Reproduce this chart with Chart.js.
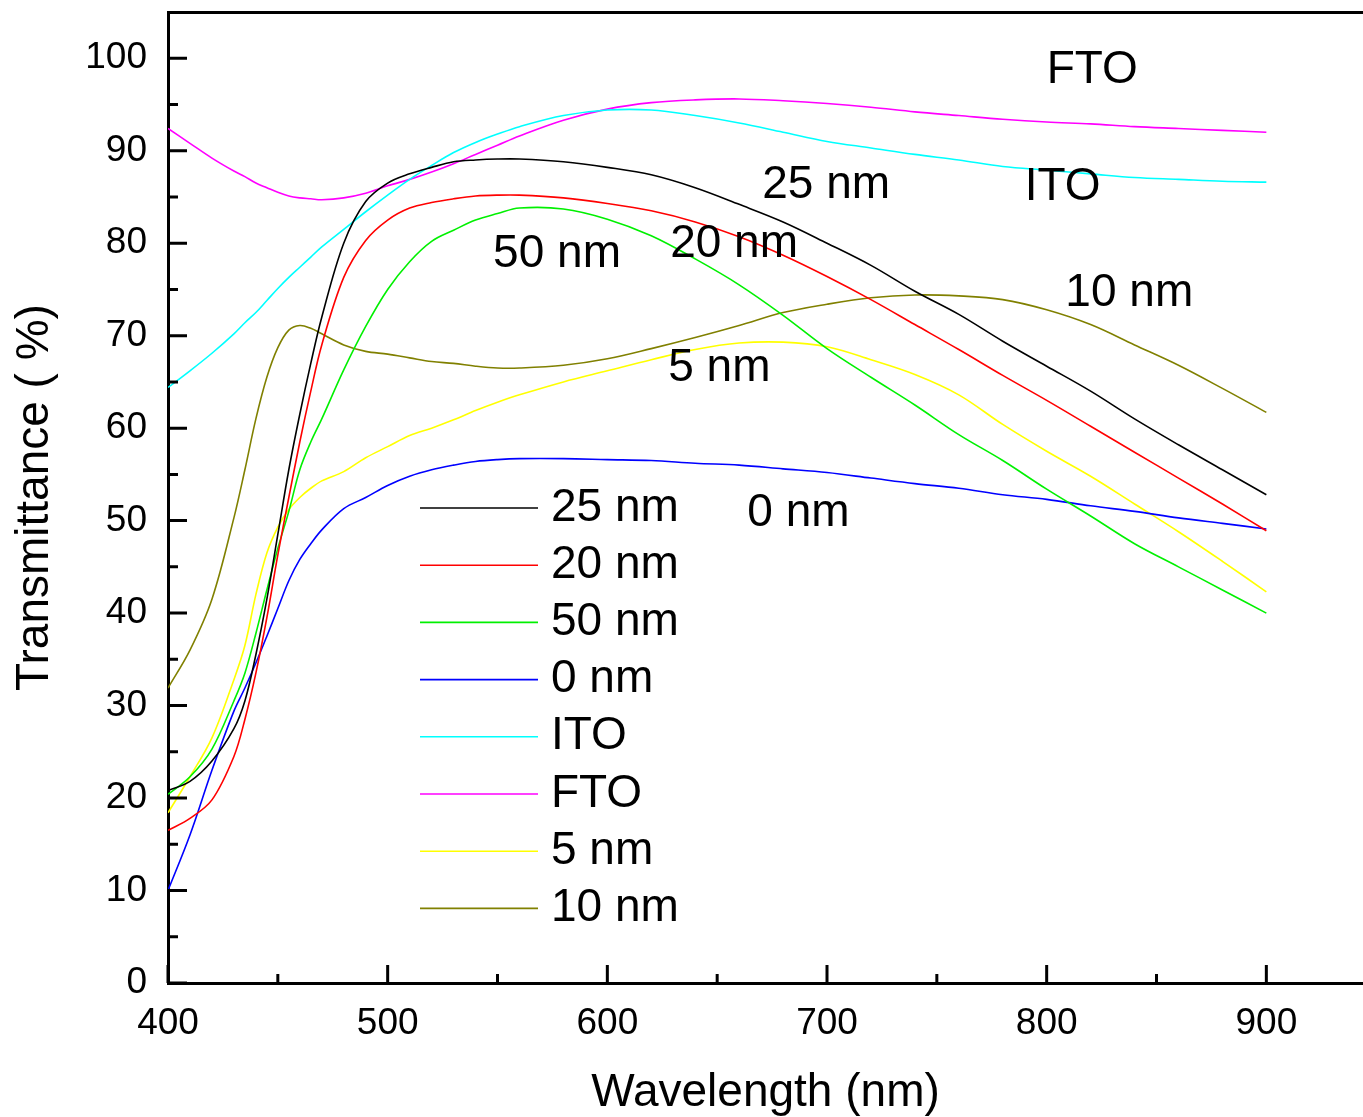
<!DOCTYPE html>
<html>
<head>
  <meta charset="UTF-8">
  <title>Transmittance</title>
  <script src="https://cdn.jsdelivr.net/npm/chart.js"></script>
  <style>
    body { margin: 0; padding: 0; background: white; }
    .wrap { width: 1363px; height: 1117px; position: relative; }
  </style>
</head>
<body>
  <div class="wrap"><canvas id="chart"></canvas></div>

  <script>
    const wavelengths = [400, 410, 420, 430, 435, 440, 445, 450, 455, 460, 465, 470, 480, 490, 500, 510, 520, 530, 540, 550,
      560, 580, 600, 620, 640, 660, 680, 700, 720, 740, 760, 780, 800, 820, 840, 860, 880, 900];

    const t25 = [20.8, 21.8, 24.0, 27.5, 30.5, 35.5, 41.5, 48.5, 55.5, 61.5, 67.0, 72.0, 80.0, 84.5, 86.5, 87.5, 88.2, 88.8, 89.0, 89.1,
      89.1, 88.8, 88.2, 87.4, 86.0, 84.2, 82.3, 80.0, 77.6, 74.8, 72.3, 69.4, 66.7, 64.0, 61.0, 58.2, 55.5, 52.8];
    const t20 = [16.5, 17.8, 19.8, 24.5, 28.5, 33.5, 39.5, 46.3, 52.5, 58.5, 64.0, 69.0, 76.3, 80.3, 82.5, 83.8, 84.4, 84.8, 85.1, 85.2,
      85.2, 84.9, 84.3, 83.5, 82.3, 80.7, 78.7, 76.4, 73.9, 71.2, 68.5, 65.7, 63.0, 60.2, 57.4, 54.6, 51.8, 48.9];
    const t50 = [20.4, 22.3, 25.3, 30.5, 33.5, 37.8, 42.5, 47.0, 51.0, 55.5, 58.5, 61.0, 66.3, 71.0, 75.0, 78.0, 80.2, 81.4, 82.5, 83.2,
      83.8, 83.7, 82.6, 80.8, 78.3, 75.5, 72.2, 68.6, 65.5, 62.5, 59.3, 56.5, 53.4, 50.5, 47.5, 45.0, 42.5, 40.0];
    const t0 = [10.0, 16.0, 23.0, 29.4, 31.9, 34.6, 37.5, 40.5, 43.5, 45.8, 47.5, 49.0, 51.3, 52.5, 53.8, 54.8, 55.5, 56.0, 56.4, 56.6,
      56.7, 56.7, 56.6, 56.5, 56.2, 56.0, 55.6, 55.2, 54.6, 54.0, 53.5, 52.8, 52.3, 51.6, 51.0, 50.3, 49.7, 49.1];
    const tITO = [64.4, 66.2, 68.1, 70.2, 71.4, 72.5, 73.8, 75.1, 76.3, 77.4, 78.5, 79.6, 81.5, 83.4, 85.2, 86.9, 88.4, 89.8, 90.9, 91.8,
      92.6, 93.8, 94.4, 94.4, 93.8, 93.0, 92.0, 91.0, 90.3, 89.6, 89.0, 88.3, 87.9, 87.5, 87.1, 86.9, 86.7, 86.6];
    const tFTO = [92.4, 90.8, 89.2, 87.8, 87.2, 86.5, 86.0, 85.5, 85.1, 84.9, 84.8, 84.7, 84.9, 85.4, 86.2, 86.9, 87.7, 88.6, 89.6, 90.6,
      91.6, 93.3, 94.5, 95.2, 95.5, 95.6, 95.4, 95.1, 94.7, 94.2, 93.8, 93.4, 93.1, 92.9, 92.6, 92.4, 92.2, 92.0];
    const t5 = [18.4, 22.3, 26.5, 32.8, 36.5, 42.0, 46.5, 49.3, 51.2, 52.5, 53.5, 54.3, 55.3, 56.8, 58.0, 59.2, 60.0, 60.9, 61.9, 62.8,
      63.6, 65.0, 66.2, 67.4, 68.5, 69.2, 69.3, 68.8, 67.4, 65.8, 63.6, 60.4, 57.5, 54.8, 51.8, 48.8, 45.6, 42.3];
    const t10 = [31.9, 36.0, 41.5, 50.3, 55.5, 61.0, 65.5, 68.7, 70.6, 71.1, 70.8, 70.2, 69.0, 68.3, 68.0, 67.6, 67.2, 67.0, 66.7, 66.5,
      66.5, 66.8, 67.5, 68.6, 69.8, 71.1, 72.5, 73.4, 74.1, 74.4, 74.3, 73.9, 72.8, 71.2, 69.0, 66.8, 64.3, 61.7];

    const xTicks = [400, 500, 600, 700, 800, 900];
    const xMinorTicks = [450, 550, 650, 750, 850];
    const yTicks = [0, 10, 20, 30, 40, 50, 60, 70, 80, 90, 100];
    const yMinorTicks = [5, 15, 25, 35, 45, 55, 65, 75, 85, 95];

    // curve labels, in wavelength / transmittance units
    const notes = [
      { text: 'FTO', x: 800, y: 98.7 },
      { text: '25 nm', x: 670.5, y: 86.3 },
      { text: 'ITO', x: 790, y: 86.0 },
      { text: '50 nm', x: 548, y: 78.8 },
      { text: '20 nm', x: 628.6, y: 79.9 },
      { text: '10 nm', x: 808.5, y: 74.6 },
      { text: '5 nm', x: 627.7, y: 66.5 },
      { text: '0 nm', x: 663.7, y: 50.8 }
    ];

    const FONT = '"Liberation Sans", Arial, sans-serif';

    const series = [
      ['25 nm', t25, '#000000'],
      ['20 nm', t20, '#ff0000'],
      ['50 nm', t50, '#00f000'],
      ['0 nm', t0, '#0000ff'],
      ['ITO', tITO, '#00ffff'],
      ['FTO', tFTO, '#ff00ff'],
      ['5 nm', t5, '#ffff00'],
      ['10 nm', t10, '#808000']
    ];

    const datasets = series.map(([label, vals, color]) => ({
      label: label,
      data: wavelengths.map((w, i) => ({ x: w, y: vals[i] })),
      borderColor: color,
      borderWidth: 1.6,
      pointRadius: 0,
      tension: 0.35,
      fill: false
    }));

    const extras = {
      id: 'extras',
      afterDraw(chart) {
        const ctx = chart.ctx;
        const x = chart.scales.x, y = chart.scales.y;
        const area = chart.chartArea;
        ctx.save();
        ctx.strokeStyle = '#000';
        ctx.lineWidth = 3;
        ctx.beginPath();
        xTicks.forEach(v => { const p = x.getPixelForValue(v); ctx.moveTo(p, area.bottom); ctx.lineTo(p, area.bottom - 18); });
        xMinorTicks.forEach(v => { const p = x.getPixelForValue(v); ctx.moveTo(p, area.bottom); ctx.lineTo(p, area.bottom - 9); });
        yTicks.forEach(v => { const p = y.getPixelForValue(v); ctx.moveTo(area.left, p); ctx.lineTo(area.left + 19, p); });
        yMinorTicks.forEach(v => { const p = y.getPixelForValue(v); ctx.moveTo(area.left, p); ctx.lineTo(area.left + 10, p); });
        ctx.stroke();

        ctx.fillStyle = '#000';
        ctx.font = '46px ' + FONT;
        ctx.textBaseline = 'middle';
        ctx.textAlign = 'left';
        notes.forEach(n => ctx.fillText(n.text, x.getPixelForValue(n.x), y.getPixelForValue(n.y)));

        // legend box inside the plot
        chart.data.datasets.forEach((ds, i) => {
          const ly = 508 + i * 57.2;
          ctx.strokeStyle = ds.borderColor;
          ctx.lineWidth = 1.6;
          ctx.beginPath();
          ctx.moveTo(420, ly);
          ctx.lineTo(538, ly);
          ctx.stroke();
          ctx.fillText(ds.label, 551, ly);
        });
        ctx.restore();
      }
    };

    new Chart(document.getElementById('chart'), {
      type: 'line',
      data: { datasets: datasets },
      options: {
        responsive: true,
        maintainAspectRatio: false,
        animation: false,
        layout: { padding: 0 },
        plugins: { legend: { display: false }, tooltip: { enabled: false } },
        scales: {
          x: {
            type: 'linear', min: 400, max: 944,
            afterBuildTicks: s => { s.ticks = xTicks.map(v => ({ value: v })); },
            afterFit: s => { s.height = 134; s.paddingLeft = 0; s.paddingRight = 0; },
            grid: { display: false, drawTicks: false },
            border: { display: true, color: '#000', width: 3 },
            ticks: { color: '#000', font: { size: 37, family: FONT, lineHeight: 1 }, padding: 22, maxRotation: 0 },
            title: { display: true, text: 'Wavelength (nm)', color: '#000',
              font: { size: 46, family: FONT, lineHeight: 1 }, padding: { top: 0, bottom: 1 } }
          },
          x2: {
            type: 'linear', axis: 'x', position: 'top', min: 400, max: 944,
            afterFit: s => { s.height = 12; s.paddingLeft = 0; s.paddingRight = 0; },
            grid: { display: false, drawTicks: false },
            border: { display: true, color: '#000', width: 3 },
            ticks: { display: false }
          },
          y: {
            type: 'linear', min: 0, max: 105,
            afterBuildTicks: s => { s.ticks = yTicks.map(v => ({ value: v })); },
            afterFit: s => { s.width = 168; s.paddingTop = 0; s.paddingBottom = 0; },
            grid: { display: false, drawTicks: false },
            border: { display: true, color: '#000', width: 3 },
            ticks: { color: '#000', font: { size: 37, family: FONT, lineHeight: 1 }, padding: 21 },
            title: { display: true, text: 'Transmittance ( %)', color: '#000',
              font: { size: 46, family: FONT, lineHeight: 1 }, padding: { top: 12, bottom: 0 } }
          }
        }
      },
      plugins: [extras]
    });
  </script>
</body>
</html>
